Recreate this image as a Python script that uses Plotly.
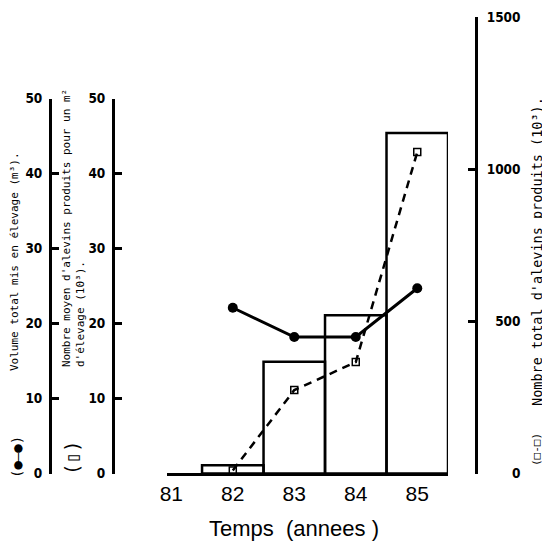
import plotly.graph_objects as go

# ---- data ----
years = [81, 82, 83, 84, 85]
year_labels = ["81", "82", "83", "84", "85"]
bar_years = [82, 83, 84, 85]
moyen_par_m3 = [1.1, 14.9, 21.1, 45.4]      # bars  (Nombre moyen d'alevins / m3, 10^3)
volume_total = [22.1, 18.2, 18.2, 24.7]     # filled circles (Volume total, m3)
total_alevins = [10, 274, 366, 1056]        # open squares (Nombre total, 10^3)
left_ticks = [0, 10, 20, 30, 40, 50]
right_ticks = [0, 500, 1000, 1500]
right_ticktext = [f"{v:>4}".replace(" ", "\u2007") for v in right_ticks]

# the page body has an 8px margin: figure is drawn at (8, 8) in the 550x545 window
OFF = 8
W, H = 550 - OFF, 545 - OFF


def px(xp):
    return (xp - OFF) / W


def py(yp):
    return (H - (yp - OFF)) / H


BASE = 473.5
tick_font = dict(family="DejaVu Sans Condensed, sans-serif",
                 size=13.5, color="black", weight="bold")
mono = "DejaVu Sans Mono, Liberation Mono, monospace"

fig = go.Figure()
fig.add_trace(go.Bar(
    x=bar_years, y=moyen_par_m3, yaxis="y2", width=1.0,
    marker=dict(color="rgba(0,0,0,0)", line=dict(color="black", width=2.5)),
    showlegend=False))
fig.add_trace(go.Scatter(
    x=bar_years, y=volume_total, yaxis="y3", mode="lines+markers",
    line=dict(color="black", width=3),
    marker=dict(color="black", size=10), showlegend=False))
fig.add_trace(go.Scatter(
    x=bar_years, y=total_alevins, yaxis="y", mode="lines+markers",
    line=dict(color="black", width=2.5, dash="8px,6px"),
    marker=dict(symbol="square-open", color="black", size=7, line=dict(width=1.5)),
    showlegend=False))

left_common = dict(range=[0, 50], domain=[py(BASE), py(98.5)], anchor="free",
                   side="left", showline=True, linewidth=3, linecolor="black",
                   ticks="inside", ticklen=7, tickwidth=3, tickcolor="black",
                   tickvals=left_ticks, tickfont=tick_font, showgrid=False,
                   zeroline=False, ticklabelstandoff=4, automargin=False)

fig.update_layout(
    width=W, height=H,
    margin=dict(l=0, r=0, t=0, b=0, autoexpand=False),
    paper_bgcolor="white", plot_bgcolor="rgba(0,0,0,0)",
    xaxis=dict(domain=[px(167), px(448)], range=[80.93, 85.5], anchor="free",
               position=py(BASE), showline=True, linewidth=2.5, linecolor="black",
               ticks="", tickvals=years, ticktext=year_labels,
               tickfont=dict(family="Liberation Sans, Arial, sans-serif", size=21,
                             color="black"),
               showgrid=False, zeroline=False, ticklabelstandoff=1, automargin=False),
    yaxis=dict(range=[0, 1500], domain=[py(BASE), py(17)], anchor="free",
               side="right", position=px(476), showline=True, linewidth=3,
               linecolor="black", ticks="inside", ticklen=7, tickwidth=3,
               tickcolor="black", tickvals=right_ticks, ticktext=right_ticktext,
               tickfont=tick_font, ticklabelstandoff=6, showgrid=False,
               zeroline=False, automargin=False),
    yaxis2=dict(**left_common, position=px(113)),
    yaxis3=dict(**left_common, overlaying="y2", position=px(50)),
    showlegend=False,
)

ann = [
    dict(x=px(15), y=py(262), text="Volume total mis en élevage (m³).",
         textangle=-90, font=dict(family=mono, size=11, color="black")),
    dict(x=px(17), y=py(457), text="(●—●)", textangle=-90,
         font=dict(family=mono, size=14, color="black")),
    dict(x=px(73), y=py(228),
         text="Nombre moyen d'alevins produits pour un m²<br>d'élevage (10³).",
         align="left", textangle=-90, font=dict(family=mono, size=11, color="black")),
    dict(x=px(72), y=py(458), text="(▯)", textangle=-90,
         font=dict(family=mono, size=19, color="black")),
    dict(x=px(537), y=py(252), text="Nombre total d'alevins produits (10³).",
         textangle=-90, font=dict(family=mono, size=13.5, color="black")),
    dict(x=px(536), y=py(450), text="(□-□)", textangle=-90,
         font=dict(family=mono, size=11, color="black")),
    dict(x=px(294), y=py(528), text="Temps\u00a0\u00a0(annees )",
         font=dict(family="Liberation Sans, Arial, sans-serif", size=22, color="black")),
]
for a in ann:
    a.update(xref="paper", yref="paper", showarrow=False,
             xanchor="center", yanchor="middle")
fig.update_layout(annotations=ann)

fig.write_html("out.html")
